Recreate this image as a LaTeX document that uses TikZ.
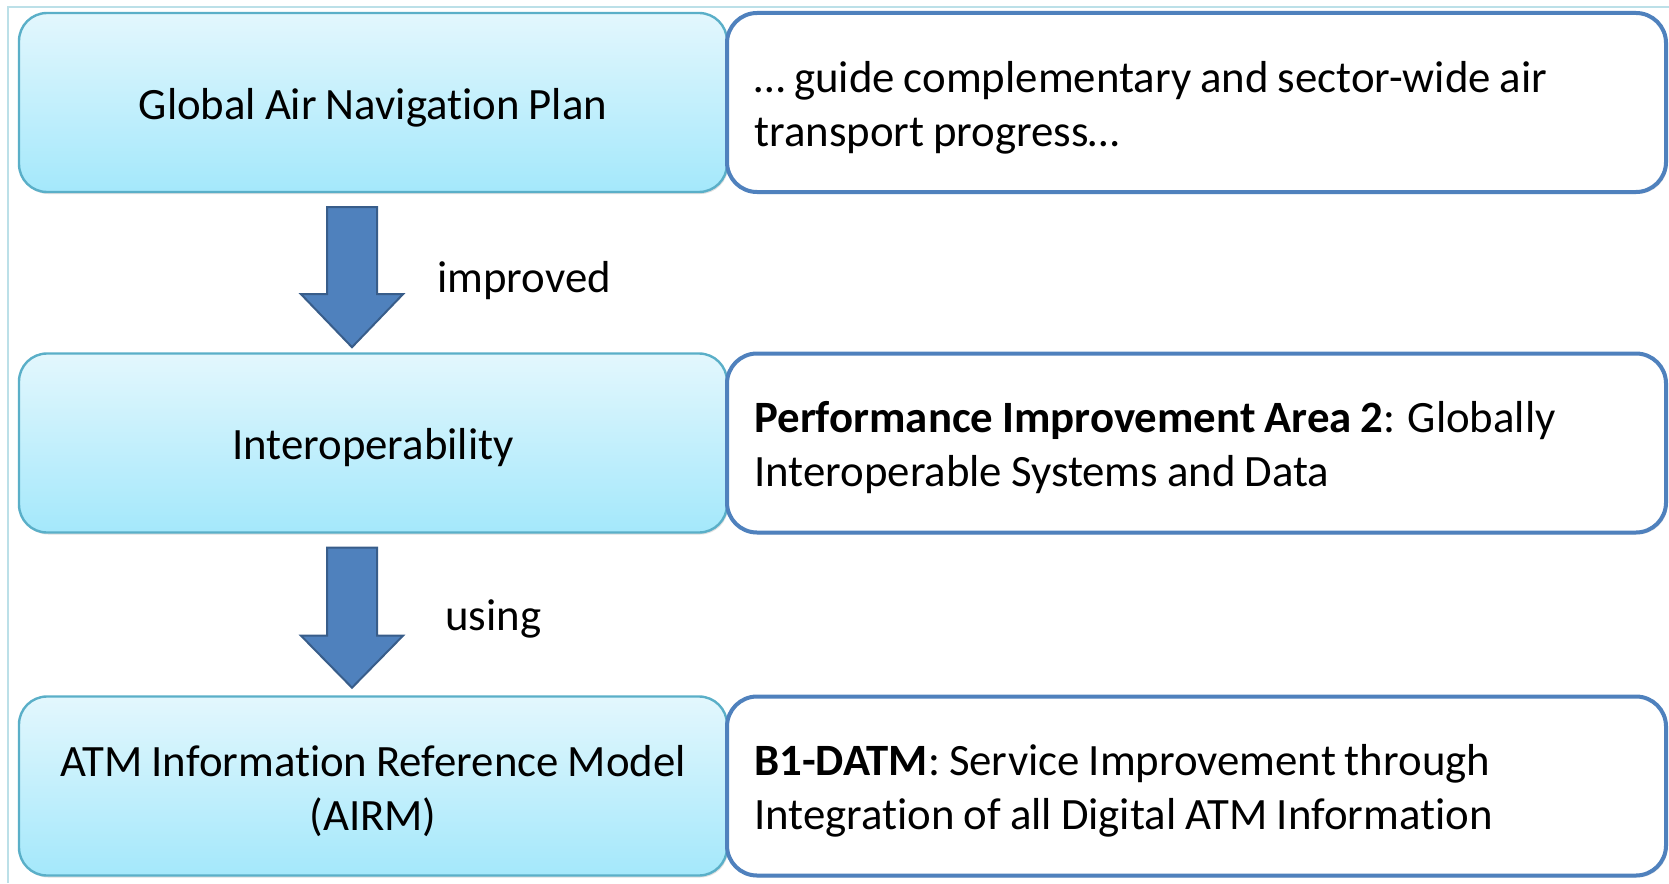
\documentclass[tikz,border=0pt]{standalone}
\usepackage{fontspec}
\setmainfont{Carlito}[Ligatures=NoCommon]
\usetikzlibrary{calc,shadows}
\definecolor{lborder}{HTML}{5AAFC8}
\definecolor{ltop}{HTML}{E3F7FD}
\definecolor{lbot}{HTML}{A4E8FB}
\definecolor{rborder}{HTML}{4F81BD}
\definecolor{arrfill}{HTML}{4F81BD}
\definecolor{arrdraw}{HTML}{385D8A}
\definecolor{framec}{HTML}{BCE0E8}
\newcommand\myfont{\fontsize{22.4}{27}\selectfont\spaceskip=0.2em plus 0.05em minus 0.02em\relax}
\begin{document}
\begin{tikzpicture}[x=0.5pt,y=-0.5pt,
  lbox/.style={draw=lborder, line width=1.2pt, rounded corners=14pt,
    top color=ltop, bottom color=lbot, minimum width=354pt, minimum height=89.5pt,
    inner sep=0pt,
    drop shadow={opacity=0.25, shadow xshift=0.6pt, shadow yshift=-1pt}},
  rbox/.style={draw=rborder, line width=2pt, rounded corners=15pt, fill=white,
    minimum width=469.5pt, minimum height=89.5pt, inner sep=0pt,
    drop shadow={opacity=0.2, shadow xshift=0.8pt, shadow yshift=-1pt}},
  ltxt/.style={align=center, inner sep=0pt, font=\myfont},
  rtxt/.style={align=left, anchor=west, inner sep=0pt, font=\myfont},
  barrow/.style={fill=arrfill, draw=arrdraw, line width=1pt, line join=miter},
  lbl/.style={anchor=base west, inner sep=0pt, font=\myfont}
]
\useasboundingbox (0,0) rectangle (1669,883);
\draw[framec, line width=1pt] (8,883) -- (8,7) -- (1669,7);

\node[lbox] (gap) at (373,102.5) {};
\node[rbox] (gapr) at (1196.5,102.5) {};
\node[lbox] (iop) at (373,443) {};
\node[rbox] (iopr) at (1196.5,443) {};
\node[lbox] (airm) at (373,786) {};
\node[rbox] (airmr) at (1196.5,786) {};

\node[ltxt] (gapt) at ($(gap.center)+(0,5)$) {Global Air Navigation Plan};
\node[rtxt] (gaprt) at ($(gapr.west)+(29,5)$) {… guide complementary and sector-wide air\\transport progress…};
\node[ltxt] (iopt) at ($(iop.center)+(0,5)$) {Interoperability};
\node[rtxt] (ioprt) at ($(iopr.west)+(29,5)$) {\textbf{Performance Improvement Area 2}: Globally\\Interoperable Systems and Data};
\node[ltxt] (airmt) at ($(airm.center)+(0,5)$) {ATM Information Reference Model\\(AIRM)};
\node[rtxt] (airmrt) at ($(airmr.west)+(29,5)$) {\textbf{B1-DATM}: Service Improvement through\\Integration of all Digital ATM Information};

\coordinate (a1) at ($(gap.south)+(-21,14)$);
\draw[barrow] (a1) ++(-25,0) -- ++(0,87) -- ++(-26,0) -- ++(51,53) -- ++(51,-53) -- ++(-26,0) -- ++(0,-87) -- cycle;
\coordinate (a2) at ($(iop.south)+(-21,14)$);
\draw[barrow] (a2) ++(-25,0) -- ++(0,88) -- ++(-26,0) -- ++(51,52) -- ++(51,-52) -- ++(-26,0) -- ++(0,-88) -- cycle;

\node[lbl] (limp) at (437,292) {improved};
\node[lbl] (luse) at (445,630) {using};
\end{tikzpicture}
\end{document}
